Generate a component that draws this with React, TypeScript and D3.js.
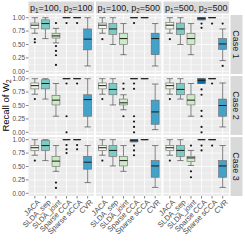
import React from "react";
import * as d3 from "d3";

const methods = ["JACA", "SLDA_sep", "SLDA_joint", "Sparse CCA", "Sparse sCCA", "CVR"];
const p1Values = [100, 100, 500];
const p2Values = [100, 500, 500];
const caseLabels = ["Case 1", "Case 2", "Case 3"];
const yTicks = [0, 0.25, 0.5, 0.75, 1];

// [lower whisker, Q1, median, Q3, upper whisker] for each column panel, each method
const case1Stats = [
  [[0.71, 0.8, 0.86, 0.9, 1], [0.61, 0.79, 0.89, 0.96, 1], [0.53, 0.62, 0.66, 0.71, 0.8], [1, 1, 1, 1, 1], [1, 1, 1, 1, 1], [0.1, 0.4, 0.6, 0.79, 1]],
  [[0.71, 0.8, 0.86, 0.9, 1], [0.5, 0.69, 0.79, 0.89, 1], [0.31, 0.5, 0.61, 0.71, 0.89], [1, 1, 1, 1, 1], [1, 1, 1, 1, 1], [0.1, 0.31, 0.61, 0.71, 0.89]],
  [[0.71, 0.79, 0.86, 0.91, 1], [0.5, 0.69, 0.79, 0.9, 1], [0.31, 0.5, 0.61, 0.71, 0.89], [0.96, 0.96, 0.99, 1, 1], [1, 1, 1, 1, 1], [0.2, 0.41, 0.51, 0.61, 0.79]],
];
const case1Outliers = [
  [[0.6, 0.54], [], [0.9, 0.47, 0.38, 0.3, 0.12], [0.9], [0.9], []],
  [[0.6], [], [], [0.9], [], []],
  [[0.6], [], [], [0.89, 0.81], [0.89], [0.89, 0.1]],
];

const case2Stats = [
  [[0.71, 0.81, 0.87, 0.92, 1], [0.62, 0.81, 0.91, 0.98, 1], [0.3, 0.51, 0.6, 0.69, 0.91], [1, 1, 1, 1, 1], [1, 1, 1, 1, 1], [0.1, 0.3, 0.61, 0.7, 1]],
  [[0.71, 0.81, 0.87, 0.92, 1], [0.51, 0.7, 0.8, 0.91, 1], [0.42, 0.51, 0.55, 0.62, 0.7], [1, 1, 1, 1, 1], [1, 1, 1, 1, 1], [0.05, 0.15, 0.38, 0.6, 0.9]],
  [[0.71, 0.81, 0.87, 0.92, 1], [0.62, 0.7, 0.8, 0.91, 1], [0.3, 0.51, 0.6, 0.7, 0.91], [0.91, 0.91, 0.97, 1, 1], [1, 1, 1, 1, 1], [0.1, 0.3, 0.5, 0.62, 0.92]],
];
const case2Outliers = [
  [[0.62], [], [], [0.91, 0.3, 0], [0.91], []],
  [[0.62], [], [0.91, 0.81, 0.3], [0.91, 0.81, 0.3, 0.2, 0.1, 0], [], []],
  [[0.62], [], [], [0.8, 0.7, 0.4, 0.3, 0.1, 0], [0.91], []],
];

const case3Stats = [
  [[0.71, 0.8, 0.85, 0.89, 1], [0.61, 0.8, 0.89, 0.99, 1], [0.41, 0.5, 0.6, 0.69, 0.89], [1, 1, 1, 1, 1], [1, 1, 1, 1, 1], [0.2, 0.45, 0.58, 0.69, 0.89]],
  [[0.71, 0.8, 0.85, 0.89, 1], [0.51, 0.69, 0.8, 0.89, 1], [0.41, 0.51, 0.61, 0.69, 0.89], [0.96, 0.96, 0.99, 1, 1], [1, 1, 1, 1, 1], [0.11, 0.3, 0.51, 0.61, 0.89]],
  [[0.71, 0.8, 0.85, 0.89, 1], [0.61, 0.69, 0.8, 0.89, 1], [0.52, 0.59, 0.66, 0.69, 0.8], [1, 1, 1, 1, 1], [1, 1, 1, 1, 1], [0.11, 0.3, 0.51, 0.61, 0.89]],
];
const case3Outliers = [
  [[0.61], [], [0.2, 0.1], [0.9, 0.82, 0.75], [0.9, 0.82], []],
  [[0.61], [], [], [0.89, 0.8, 0.71], [], []],
  [[0.61], [], [0.89, 0.41, 0.3], [0.89, 0.8], [0.89], []],
];

const allStats = [case1Stats, case2Stats, case3Stats];
const allOutliers = [case1Outliers, case2Outliers, case3Outliers];

const fills = ["#f0f9e8", "#7bccc4", "#ccebc5", "#0868ac", "#a8ddb5", "#43a2ca"];

const font = "'Liberation Sans', Arial, sans-serif";
const colX = [28.5, 96, 163.5];
const panelW = 65.5;
const rowY = [15, 76, 137];
const panelH = 59;

function Panel({ ci, ri }: { ci: number; ri: number }) {
  const x0 = colX[ci];
  const y0 = rowY[ri];
  const x = d3.scaleBand<string>().domain(methods).range([x0, x0 + panelW]).paddingInner(0).paddingOuter(0.1);
  const y = d3.scaleLinear().domain([-0.05, 1.05]).range([y0 + panelH, y0]);
  const step = x.bandwidth();
  const bw = step * 0.75;
  const cw = step * 0.6;
  const stats = allStats[ri][ci];
  const outs = allOutliers[ri][ci];
  const minor = [0.125, 0.375, 0.625, 0.875];
  return (
    <g>
      <rect x={x0} y={y0} width={panelW} height={panelH} fill="#ebebeb" />
      {minor.map((v) => (
        <line key={"mn" + v} x1={x0} x2={x0 + panelW} y1={y(v)} y2={y(v)} stroke="#fff" strokeWidth={0.4} />
      ))}
      {yTicks.map((v) => (
        <line key={"mj" + v} x1={x0} x2={x0 + panelW} y1={y(v)} y2={y(v)} stroke="#fff" strokeWidth={0.8} />
      ))}
      {methods.map((m) => {
        const cx = x(m)! + step / 2;
        return <line key={"vx" + m} x1={cx} x2={cx} y1={y0} y2={y0 + panelH} stroke="#fff" strokeWidth={0.8} />;
      })}
      {methods.map((m, i) => {
        const cx = x(m)! + step / 2;
        const [lo, q1, md, q3, hi] = stats[i];
        return (
          <g key={m}>
            <line x1={cx} x2={cx} y1={y(hi)} y2={y(q3)} stroke="#333" strokeWidth={0.6} />
            <line x1={cx} x2={cx} y1={y(q1)} y2={y(lo)} stroke="#333" strokeWidth={0.6} />
            <line x1={cx - cw / 2} x2={cx + cw / 2} y1={y(hi)} y2={y(hi)} stroke="#333" strokeWidth={0.6} />
            <line x1={cx - cw / 2} x2={cx + cw / 2} y1={y(lo)} y2={y(lo)} stroke="#333" strokeWidth={0.6} />
            <rect x={cx - bw / 2} y={y(q3)} width={bw} height={Math.max(0, y(q1) - y(q3))} fill={fills[i]} stroke="#666" strokeWidth={0.6} />
            <line x1={cx - bw / 2} x2={cx + bw / 2} y1={y(md)} y2={y(md)} stroke="#1a1a1a" strokeWidth={1} />
            {outs[i].map((o, k) => (
              <circle key={k} cx={cx} cy={y(o)} r={1.1} fill="#1a1a1a" />
            ))}
          </g>
        );
      })}
    </g>
  );
}

export default function App() {
  const bottom = rowY[2] + panelH;
  return (
    <svg width={245} height={245} style={{ position: "absolute", left: 0, top: 0, background: "#fff" }} fontFamily={font}>
      {rowY.map((ry, ri) =>
        colX.map((cx, ci) => <Panel key={ri + "-" + ci} ci={ci} ri={ri} />)
      )}
      {/* top strips */}
      {colX.map((cx, ci) => (
        <g key={"ts" + ci}>
          <rect x={cx} y={1.5} width={panelW} height={12} fill="#d9d9d9" />
          <text x={cx + panelW / 2} y={11} textAnchor="middle" fontSize={9} fill="#1a1a1a">
            p<tspan fontSize={6.3} dy={2}>1</tspan>
            <tspan dy={-2}>={p1Values[ci]}, p</tspan>
            <tspan fontSize={6.3} dy={2}>2</tspan>
            <tspan dy={-2}>={p2Values[ci]}</tspan>
          </text>
        </g>
      ))}
      {/* right strips */}
      {rowY.map((ry, ri) => (
        <g key={"rs" + ri}>
          <rect x={colX[2] + panelW + 1.5} y={ry} width={12} height={panelH} fill="#d9d9d9" />
          <text
            transform={`translate(${colX[2] + panelW + 7.5},${ry + panelH / 2}) rotate(90)`}
            textAnchor="middle"
            dy="0.35em"
            fontSize={9}
            fill="#1a1a1a"
          >
            {caseLabels[ri]}
          </text>
        </g>
      ))}
      {/* y axes */}
      {rowY.map((ry, ri) => {
        const y = d3.scaleLinear().domain([-0.05, 1.05]).range([ry + panelH, ry]);
        return (
          <g key={"ya" + ri}>
            {yTicks.map((v) => (
              <g key={v}>
                <line x1={colX[0] - 2.5} x2={colX[0]} y1={y(v)} y2={y(v)} stroke="#333" strokeWidth={0.6} />
                <text x={colX[0] - 3.5} y={y(v)} dy="0.35em" textAnchor="end" fontSize={6.4} fill="#4d4d4d">
                  {d3.format(".2f")(v)}
                </text>
              </g>
            ))}
          </g>
        );
      })}
      {/* x axes */}
      {colX.map((cx0, ci) => {
        const x = d3.scaleBand<string>().domain(methods).range([cx0, cx0 + panelW]).paddingOuter(0.1);
        return (
          <g key={"xa" + ci}>
            {methods.map((m) => {
              const cx = x(m)! + x.bandwidth() / 2;
              return (
                <g key={m}>
                  <line x1={cx} x2={cx} y1={bottom} y2={bottom + 2.5} stroke="#333" strokeWidth={0.6} />
                  <text
                    transform={`translate(${cx + 2},${bottom + 3}) rotate(-45)`}
                    textAnchor="end"
                    dy="0.7em"
                    fontSize={7.5}
                    fill="#4d4d4d"
                  >
                    {m}
                  </text>
                </g>
              );
            })}
          </g>
        );
      })}
      {/* y title */}
      <text transform={`translate(9,${(rowY[0] + bottom) / 2}) rotate(-90)`} textAnchor="middle" fontSize={9.5} fill="#000">
        Recall of W<tspan fontSize={6.5} dy={2}>2</tspan>
      </text>
    </svg>
  );
}
